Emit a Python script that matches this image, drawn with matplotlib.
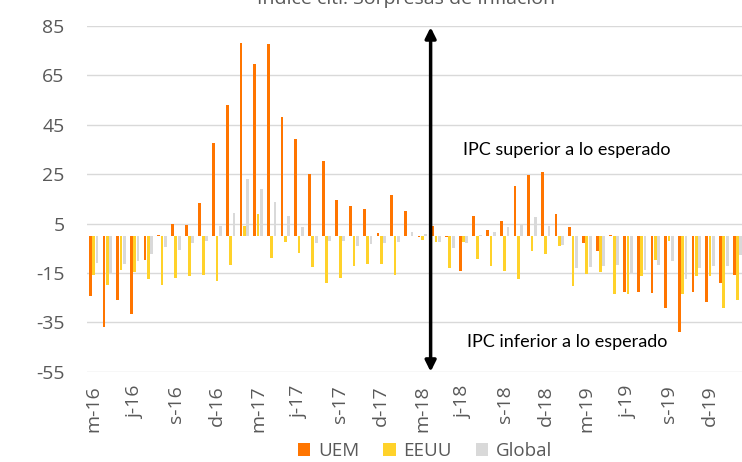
import matplotlib
matplotlib.use("Agg")
import matplotlib.pyplot as plt
import numpy as np

plt.rcParams["axes.unicode_minus"] = False

# monthly categories, Mar-2016 .. Feb-2020
months = ["m-16", "a-16", "m-16", "j-16", "j-16", "a-16", "s-16", "o-16", "n-16", "d-16",
          "e-17", "f-17", "m-17", "a-17", "m-17", "j-17", "j-17", "a-17", "s-17", "o-17", "n-17", "d-17",
          "e-18", "f-18", "m-18", "a-18", "m-18", "j-18", "j-18", "a-18", "s-18", "o-18", "n-18", "d-18",
          "e-19", "f-19", "m-19", "a-19", "m-19", "j-19", "j-19", "a-19", "s-19", "o-19", "n-19", "d-19",
          "e-20", "f-20"]

uem = [-24.2, -37.1, -25.8, -31.5, -9.9, 0.3, 5.0, 4.6, 13.3, 37.6,
       53.1, 78.2, 69.5, 77.9, 48.3, 39.4, 25.2, 30.2, 14.4, 12.1, 10.8, 1.0,
       16.6, 10.0, -0.5, 3.9, -0.5, -14.3, 8.1, 2.3, 5.9, 20.1, 24.8, 25.7,
       9.0, 3.6, -2.9, -6.2, 0.4, -22.7, -22.7, -23.1, -29.2, -38.9, -22.7, -26.8,
       -18.9, -15.7]
eeuu = [-15.7, -20.0, -13.7, -14.7, -17.3, -20.0, -17.0, -16.1, -15.7, -18.2,
        -11.6, 4.0, 9.0, -8.9, -2.5, -6.8, -12.6, -19.1, -17.0, -12.2, -11.2, -11.2,
        -15.7, 0.0, -1.5, -2.5, -13.0, -2.5, -9.5, -12.3, -14.2, -17.3, -6.2, -7.2,
        -4.1, -20.4, -15.5, -14.7, -23.5, -23.5, -16.1, -9.9, -2.2, -23.4, -16.2, -16.1,
        -29.2, -26.1]
glob = [-10.8, -15.3, -11.2, -10.3, -7.2, -4.5, -5.6, -2.9, -2.0, 4.0,
        9.4, 23.0, 19.1, 13.9, 8.1, 3.6, -2.9, -2.0, -2.0, -4.1, -3.4, -2.7,
        -2.5, 1.5, 0.6, -2.5, -5.0, -2.9, 0.5, 1.5, 3.6, 5.0, 7.7, 4.0,
        -3.5, -13.2, -12.6, -12.2, -11.6, -15.3, -13.7, -11.6, -10.3, -17.6, -13.0, -12.2,
        -12.2, -7.6]

tick_idx = list(range(0, 46, 3))
yticks = [-55, -35, -15, 5, 25, 45, 65, 85]

GREY_TXT = "#595959"
colors = {"UEM": "#FF7500", "EEUU": "#FFD22A", "Global": "#D9D9D9"}

fig = plt.figure(figsize=(7.42, 4.62), dpi=100)
ax = fig.add_axes([86.75 / 742, 1 - 371.7 / 462, 657.6 / 742, (371.7 - 26) / 462])

x = np.arange(len(months))
w = 0.2
off = 0.245
ax.bar(x - off, uem, w, color=colors["UEM"], label="UEM", zorder=3)
ax.bar(x, eeuu, w, color=colors["EEUU"], label="EEUU", zorder=3)
ax.bar(x + off, glob, w, color=colors["Global"], label="Global", zorder=3)

ax.set_xlim(-0.5, len(months) - 0.5)
ax.set_ylim(-55, 85)
ax.set_yticks(yticks)
ax.yaxis.grid(True, color="#D9D9D9", lw=1, zorder=0)
ax.set_axisbelow(True)
for s in ax.spines.values():
    s.set_visible(False)

ax.set_xticks(tick_idx)
ax.set_xticklabels([months[i] for i in tick_idx], rotation=90)
ax.tick_params(axis="both", length=0, colors=GREY_TXT, labelsize=14)
ax.tick_params(axis="y", pad=16)
ax.tick_params(axis="x", pad=10)
for lbl in ax.get_xticklabels() + ax.get_yticklabels():
    lbl.set_family("Open Sans")

# divider arrow
ax.annotate("", xy=(24.6, 84.5), xytext=(24.6, -55),
            arrowprops=dict(arrowstyle="<|-|>", color="black", lw=2.5,
                            mutation_scale=16, shrinkA=0, shrinkB=0), zorder=5)
ax.text(34.55, 34.7, "IPC superior a lo esperado", ha="center", va="center",
        fontsize=13, family="Lato", color="black")
ax.text(34.55, -43.1, "IPC inferior a lo esperado", ha="center", va="center",
        fontsize=13, family="Lato", color="black")

fig.text(406 / 742, 1 - 4 / 462, "Índice citi: Sorpresas de Inflación", ha="center",
         va="baseline", fontsize=14, family="Open Sans", color=GREY_TXT)

leg = fig.legend(loc="center", bbox_to_anchor=(425 / 742, 1 - 451 / 462), ncol=3,
                 frameon=False, handlelength=0.65, handleheight=0.65, handletextpad=0.4,
                 columnspacing=1.3, prop={"family": "Open Sans", "size": 13.5})
for t in leg.get_texts():
    t.set_color(GREY_TXT)

fig.savefig("out.png", dpi=100)
